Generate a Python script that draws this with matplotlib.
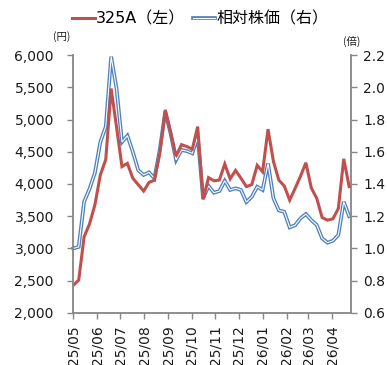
import matplotlib
matplotlib.use("Agg")
import matplotlib.pyplot as plt
import matplotlib.dates as mdates
import matplotlib.patheffects as pe
import numpy as np
import pandas as pd

# Weekly closes of 325A (yen, left axis) and its relative price (x, right axis)
start_date = "2025-05-01"
n_weeks = 52
price_yen = [2430, 2510, 3180, 3380, 3680, 4140, 4380, 5480, 4880, 4270,
             4320, 4090, 3990, 3890, 4025, 4060, 4480, 5150, 4800, 4430,
             4610, 4580, 4540, 4890, 3760, 4100, 4050, 4060, 4310, 4080,
             4210, 4090, 3960, 3990, 4290, 4190, 4850, 4350, 4060, 3970,
             3750, 3930, 4120, 4330, 3940, 3780, 3480, 3440, 3460, 3620,
             4390, 3960]
relative = [1.00, 1.01, 1.29, 1.37, 1.47, 1.66, 1.755, 2.19, 1.99, 1.66,
            1.70, 1.60, 1.486, 1.456, 1.472, 1.435, 1.616, 1.848, 1.712, 1.549,
            1.611, 1.604, 1.59, 1.693, 1.311, 1.388, 1.346, 1.356, 1.42, 1.363,
            1.373, 1.363, 1.288, 1.321, 1.383, 1.363, 1.528, 1.312, 1.236, 1.228,
            1.131, 1.144, 1.187, 1.214, 1.176, 1.146, 1.063, 1.036, 1.048, 1.084,
            1.29, 1.20]
left_ticks = [2000, 2500, 3000, 3500, 4000, 4500, 5000, 5500, 6000]
right_ticks = [0.6, 0.8, 1.0, 1.2, 1.4, 1.6, 1.8, 2.0, 2.2]
label_price = "325A（左）"
label_rel = "相対株価（右）"

dates = pd.date_range(start_date, periods=n_weeks, freq="7D")

RED = "#C0504D"
BLUE = "#4F81BD"
GRAY = "#868686"
TXT = "#1a1a1a"

plt.rcParams["font.family"] = ["DejaVu Sans", "Noto Sans CJK JP"]

fig = plt.figure(figsize=(3.87, 3.65), dpi=100)
ax1 = fig.add_axes([0.1894, 0.1425, 0.9062 - 0.1894, 0.8493 - 0.1425])
ax2 = ax1.twinx()

# relative price: outlined (double) blue line on the right axis
l2, = ax2.plot(dates, relative, color="white", lw=0.8, label=label_rel,
               solid_joinstyle="miter", clip_on=False,
               path_effects=[pe.Stroke(linewidth=2.7, foreground=BLUE), pe.Normal()])
# share price: solid red line on the left axis, drawn above the blue one
l1, = ax1.plot(dates, price_yen, color=RED, lw=2.2, label=label_price,
               solid_joinstyle="miter")
ax1.set_zorder(ax2.get_zorder() + 1)
ax1.patch.set_visible(False)

ax1.set_ylim(2000, 6000)
ax2.set_ylim(0.6, 2.2)
ax1.set_yticks(left_ticks)
ax1.set_yticklabels([f"{v:,}" for v in left_ticks])
ax2.set_yticks(right_ticks)
ax2.set_yticklabels([f"{v:.1f}" for v in right_ticks])

ax1.set_xlim(pd.Timestamp(start_date), pd.Timestamp("2026-04-25"))
ax1.xaxis.set_major_locator(mdates.MonthLocator(bymonthday=1))
ax1.xaxis.set_major_formatter(mdates.DateFormatter("%y/%m"))
for lab in ax1.get_xticklabels():
    lab.set_rotation(90)

for ax in (ax1, ax2):
    ax.spines["top"].set_visible(False)
    for side in ("left", "right", "bottom"):
        ax.spines[side].set_color(GRAY)
        ax.spines[side].set_linewidth(1.3)
ax1.spines["right"].set_visible(False)
ax2.spines["left"].set_visible(False)
ax2.spines["bottom"].set_visible(False)

ax1.tick_params(axis="y", direction="out", length=4, width=1, color=GRAY,
                labelsize=10, labelcolor=TXT, pad=10)
ax1.tick_params(axis="x", direction="out", length=4, width=1, color=GRAY,
                labelsize=10, labelcolor=TXT, pad=5)
ax2.tick_params(axis="y", direction="out", length=4, width=1, color=GRAY,
                labelsize=10, labelcolor=TXT, pad=5)

fig.text(62 / 387, 1 - 37 / 365, "(円)", ha="center", va="center", fontsize=7.5,
         family=["Noto Sans CJK JP"], color=TXT)
fig.text(352 / 387, 1 - 41 / 365, "(倍)", ha="center", va="center", fontsize=7.5,
         family=["Noto Sans CJK JP"], color=TXT)

fig.legend(handles=[l1, l2], loc="center", bbox_to_anchor=(0.518, 1 - 19 / 365),
           ncol=2, frameon=False, handlelength=1.4, handletextpad=0.08,
           columnspacing=0.5, borderpad=0.0,
           prop={"family": ["DejaVu Sans", "Noto Sans CJK JP"], "size": 11.5})

fig.savefig("out.png", dpi=100)
